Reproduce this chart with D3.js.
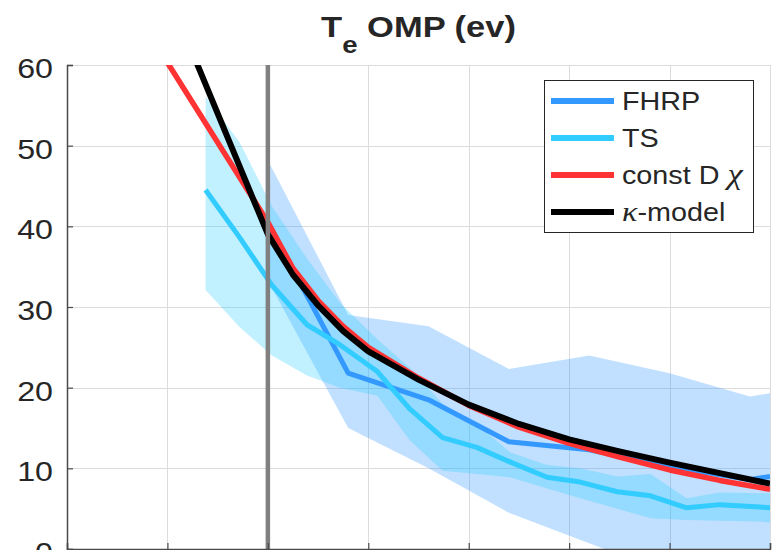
<!DOCTYPE html>
<html>
<head>
<meta charset="utf-8">
<script src="https://cdn.jsdelivr.net/npm/d3@7"></script>
<style>
  html, body { margin: 0; padding: 0; background: #fff; }
  svg { display: block; }
  text { font-family: "Liberation Sans", Arial, sans-serif; fill: #262626; }
</style>
</head>
<body>
<svg id="chart" width="776" height="550"></svg>
<script>
// ---------- data ----------
const xTicks = [-2, -1, 0, 1, 2, 3, 4, 5];
const yTicks = [0, 10, 20, 30, 40, 50, 60];
const separatrixX = 0;

// TS (Thomson scattering) mean and band
const tsX    = [-0.62, -0.28, 0.04, 0.39, 0.72, 1.09, 1.41, 1.74, 2.08, 2.41, 2.78, 3.11, 3.48, 3.81, 4.17, 4.50, 4.90, 5.00];
const tsMean = [44.5, 38.6, 32.7, 27.8, 25.3, 22.0, 17.4, 13.8, 12.6, 10.8, 8.9, 8.3, 7.1, 6.6, 5.1, 5.5, 5.2, 5.1];
const tsHi   = [56.1, 50.4, 42.5, 36.0, 30.5, 26.0, 22.5, 18.0, 15.5, 12.0, 10.4, 10.0, 9.0, 9.3, 6.3, 7.0, 6.9, 6.9];
const tsLo   = [32.1, 27.5, 24.0, 21.5, 20.0, 19.0, 13.5, 9.7, 9.3, 8.9, 7.5, 6.3, 5.0, 3.8, 3.6, 3.5, 3.4, 3.3];

// FHRP mean and band
const fhrpX    = [0.0, 0.8, 1.6, 2.4, 3.2, 4.0, 4.8, 5.0];
const fhrpMean = [40.5, 21.8, 18.5, 13.3, 12.3, 10.2, 8.6, 9.0];
const fhrpHi   = [48.2, 29.0, 27.6, 22.3, 24.0, 21.8, 18.9, 19.3];
const fhrpLo   = [33.3, 15.0, 10.0, 4.5, 0.7, -3.0, -5.0, -5.0];

// models
const modelX  = [-1, 0, 0.25, 0.5, 0.75, 1, 1.5, 2, 2.5, 3, 3.5, 4, 4.5, 5];
const constDChi = [60.3, 40.5, 34.8, 30.8, 27.6, 25.0, 21.2, 17.8, 15.1, 13.1, 11.4, 9.8, 8.5, 7.4];
const kappaModel = [69.0, 39.0, 34.0, 30.2, 27.0, 24.5, 21.0, 17.9, 15.5, 13.6, 12.1, 10.7, 9.4, 8.1];

const legendLabels = ["FHRP", "TS", "const D ", "-model"];
const colors = { fhrp: "#3399ff", ts: "#33ccff", constD: "#ff3333", kappa: "#000000", sep: "#808080" };

// ---------- layout ----------
const W = 776, H = 550;
const L = 67, R = 770, T = 65, B = 549;
const SX = 1.15; // horizontal stretch of the reference's text

const svg = d3.select("#chart");
svg.append("rect").attr("width", W).attr("height", H).attr("fill", "#fff");

const x = d3.scaleLinear().domain([-2, 5]).range([L, R]);
const y = d3.scaleLinear().domain([0, 60]).range([B, T]);

svg.append("defs").append("clipPath").attr("id", "clip")
  .append("rect").attr("x", L).attr("y", T).attr("width", R - L).attr("height", B - T);

// grid
const grid = svg.append("g").attr("stroke", "#dcdcdc").attr("stroke-width", 1);
grid.selectAll("line.v").data(xTicks.slice(1)).join("line")
  .attr("x1", d => Math.round(x(d)) + 0.5).attr("x2", d => Math.round(x(d)) + 0.5)
  .attr("y1", T).attr("y2", B);
grid.selectAll("line.h").data(yTicks.slice(1)).join("line")
  .attr("y1", d => Math.round(y(d)) + 0.5).attr("y2", d => Math.round(y(d)) + 0.5)
  .attr("x1", L).attr("x2", R);

const plot = svg.append("g").attr("clip-path", "url(#clip)");

function band(xs, lo, hi) {
  const pts = xs.map((d, i) => ({ x: d, lo: lo[i], hi: hi[i] }));
  return d3.area().x(d => x(d.x)).y0(d => y(d.lo)).y1(d => y(d.hi))(pts);
}
function line(xs, ys) {
  return d3.line().x(d => x(d[0])).y(d => y(d[1]))(xs.map((d, i) => [d, ys[i]]));
}

plot.append("path").attr("d", band(fhrpX, fhrpLo, fhrpHi))
  .attr("fill", colors.fhrp).attr("fill-opacity", 0.3);
plot.append("path").attr("d", band(tsX, tsLo, tsHi))
  .attr("fill", colors.ts).attr("fill-opacity", 0.3);

const lineStyle = (p, c, w) => p.attr("fill", "none").attr("stroke", c).attr("stroke-width", w)
  .attr("stroke-linejoin", "round").attr("stroke-linecap", "butt");

lineStyle(plot.append("path").attr("d", line(fhrpX, fhrpMean)), colors.fhrp, 5);
lineStyle(plot.append("path").attr("d", line(tsX, tsMean)), colors.ts, 5);
lineStyle(plot.append("path").attr("d", line(modelX, constDChi)), colors.constD, 5.5);
lineStyle(plot.append("path").attr("d", line(modelX, kappaModel)), colors.kappa, 6);

// separatrix line
plot.append("line").attr("x1", x(separatrixX)).attr("x2", x(separatrixX))
  .attr("y1", T).attr("y2", B).attr("stroke", colors.sep).attr("stroke-width", 4.5);

// axes
const axisColor = "#4a4a4a";
const yAxis = d3.axisLeft(y).tickValues(yTicks).tickSize(-6).tickPadding(14).tickFormat(d3.format("d"));
const gy = svg.append("g").attr("transform", `translate(${L},0)`).call(yAxis);
gy.select(".domain").attr("stroke", axisColor).attr("stroke-width", 1.5);
gy.selectAll(".tick line").attr("stroke", axisColor).attr("stroke-width", 1.2);
gy.selectAll(".tick text").each(function() {
  const t = d3.select(this);
  t.attr("transform", `translate(${-14},0) scale(${SX},1)`).attr("x", 0)
   .attr("dy", "0.45em").attr("font-size", 28).attr("fill", "#262626")
   .attr("font-family", "Liberation Sans, Arial, sans-serif");
});

const xAxis = d3.axisBottom(x).tickValues(xTicks).tickSize(-6).tickFormat("");
const gx = svg.append("g").attr("transform", `translate(0,${B})`).call(xAxis);
gx.select(".domain").attr("stroke", axisColor).attr("stroke-width", 1.5);
gx.selectAll(".tick line").attr("stroke", axisColor).attr("stroke-width", 1.2);

// title
const title = svg.append("text")
  .attr("transform", `translate(${(L + R) / 2},37) scale(${SX},1)`)
  .attr("text-anchor", "middle").attr("font-weight", "bold").attr("font-size", 30).attr("fill", "#000");
title.append("tspan").text("T");
title.append("tspan").attr("dy", 16).attr("font-size", 24).text("e");
title.append("tspan").attr("dy", -16).text(" OMP (ev)");

// legend
const lg = svg.append("g");
lg.append("rect").attr("x", 544.5).attr("y", 80.5).attr("width", 209).attr("height", 152)
  .attr("fill", "#fff").attr("stroke", "#262626").attr("stroke-width", 1);
const entries = [
  { c: colors.fhrp, y: 101 },
  { c: colors.ts, y: 138 },
  { c: colors.constD, y: 175 },
  { c: colors.kappa, y: 212 }
];
entries.forEach((e, i) => {
  lg.append("line").attr("x1", 551).attr("x2", 614).attr("y1", e.y).attr("y2", e.y)
    .attr("stroke", e.c).attr("stroke-width", 6);
  const t = lg.append("text").attr("transform", `translate(622,${e.y + 9}) scale(${SX},1)`)
    .attr("font-size", 25).attr("fill", "#000");
  if (i === 2) {
    t.append("tspan").text(legendLabels[i]);
    t.append("tspan").attr("font-family", "Liberation Serif, serif").attr("font-style", "italic")
      .attr("font-size", 30).text("χ");
  } else if (i === 3) {
    t.append("tspan").attr("font-family", "Liberation Serif, serif").attr("font-style", "italic")
      .attr("font-size", 28).text("κ");
    t.append("tspan").text(legendLabels[i]);
  } else {
    t.text(legendLabels[i]);
  }
});
</script>
</body>
</html>
